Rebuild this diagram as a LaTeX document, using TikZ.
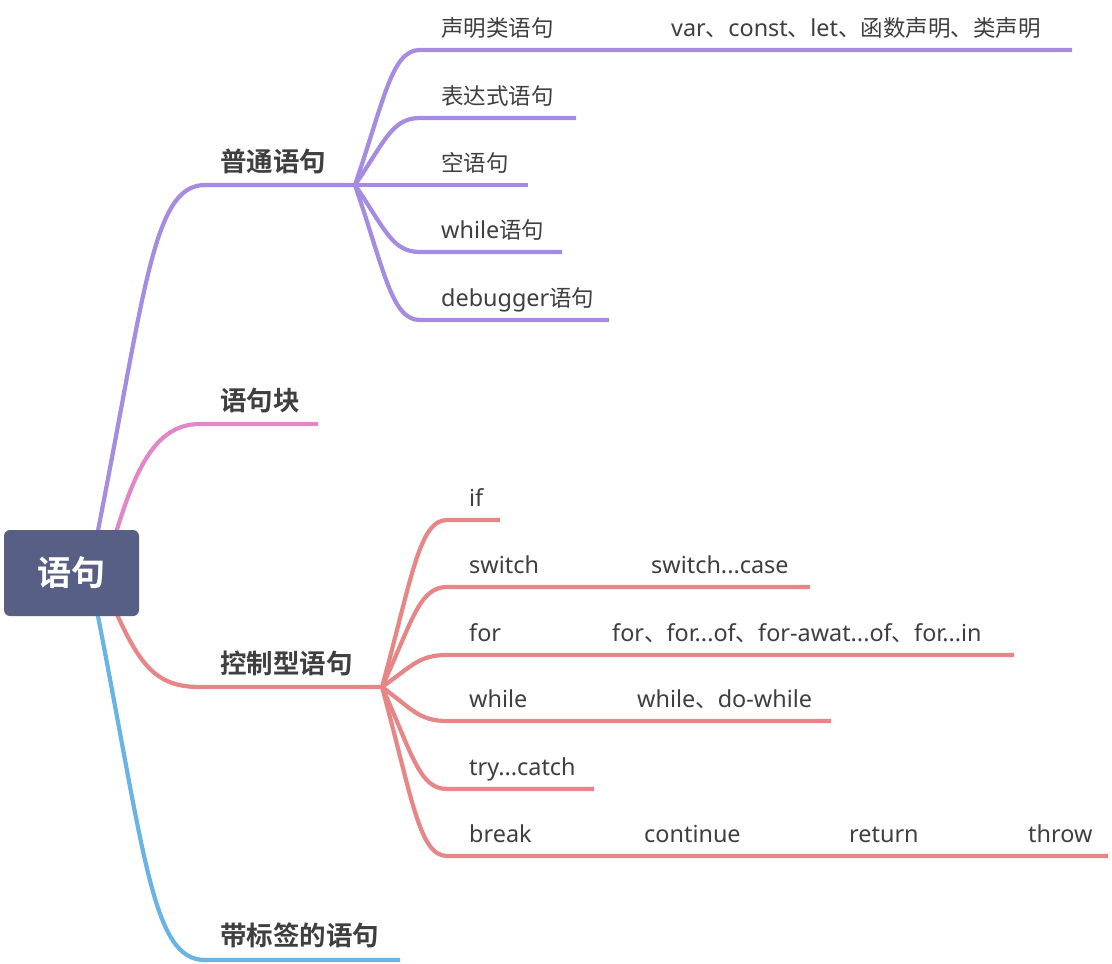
\documentclass[tikz,border=0pt]{standalone}
\usepackage{fontspec}
\setmainfont{Noto Sans CJK SC}[BoldFont={Noto Sans CJK SC Bold}]
\newfontfamily\lt{Noto Sans}[Scale=1.04]
\usetikzlibrary{backgrounds}
\definecolor{cpur}{HTML}{A58BE1}
\definecolor{cpink}{HTML}{E186C9}
\definecolor{cred}{HTML}{E68686}
\definecolor{cblue}{HTML}{6AB3E5}
\definecolor{croot}{HTML}{575F84}
\definecolor{ctxt}{HTML}{3F3F3F}
\begin{document}
\begin{tikzpicture}[x=1pt,y=-1pt,
  br/.style={line width=4.2pt},
  txt/.style={anchor=base west,inner sep=0pt,text=ctxt,font=\fontsize{22.5}{27}\selectfont},
  ltxt/.style={txt,font=\fontsize{22.5}{27}\selectfont\lt},
  mtxt/.style={anchor=base west,inner sep=0pt,text=ctxt,font=\fontsize{26.5}{31}\selectfont\bfseries},
  rootbox/.style={fill=croot,rounded corners=6pt,minimum width=135pt,minimum height=86pt,inner sep=0pt,text=white,font=\fontsize{34}{40}\selectfont\bfseries}]
\useasboundingbox (0,0) rectangle (1112,964);
% root
\node[rootbox] (root) at (71.5,573) {语句};
% main branch texts
\node[mtxt] (m1) at (220,171) {普通语句};
\node[mtxt] (m2) at (220,410) {语句块};
\node[mtxt] (m3) at (220,673) {控制型语句};
\node[mtxt] (m4) at (220,945) {带标签的语句};
% hubs / ends
\coordinate (h1) at (355,185);
\coordinate (e2) at (318,424);
\coordinate (h3) at (382,687);
\coordinate (e4) at (400,960);
\begin{scope}[on background layer]
\fill[white] (0,0) rectangle (1112,964);
\draw[br,cpur] ([xshift=18pt]root.center) .. controls (145,300) and (150,185) .. (205,185) -- (h1);
\draw[br,cpink] ([xshift=33pt]root.center) .. controls (130,480) and (150,424) .. (200,424) -- (e2);
\draw[br,cred] ([xshift=28pt]root.center) .. controls (135,660) and (150,687) .. (200,687) -- (h3);
\draw[br,cblue] ([xshift=18pt]root.center) .. controls (145,850) and (150,960) .. (205,960) -- (e4);
\end{scope}
% purple children
\node[txt] (p1) at (441,36) {声明类语句};
\node[txt] (p1a) at (671,36) {{\lt var}、{\lt const}、{\lt let}、函数声明、类声明};
\node[txt] (p2) at (441,104) {表达式语句};
\node[txt] (p3) at (441,171) {空语句};
\node[txt] (p4) at (441,238) {{\lt while}语句};
\node[txt] (p5) at (441,306) {{\lt debugger}语句};
\coordinate (p1e) at (576,50);
\coordinate (p1ae) at (1072,50);
\coordinate (p2e) at (576,118);
\coordinate (p3e) at (528,185);
\coordinate (p4e) at (562,252);
\coordinate (p5e) at (609,320);
\draw[br,cpur] (h1) .. controls (385,97) and (392,50) .. (420,50) -- (p1e) -- (p1ae);
\draw[br,cpur] (h1) .. controls (385,141) and (392,118) .. (420,118) -- (p2e);
\draw[br,cpur] (h1) -- (p3e);
\draw[br,cpur] (h1) .. controls (385,229) and (392,252) .. (420,252) -- (p4e);
\draw[br,cpur] (h1) .. controls (385,273) and (392,320) .. (420,320) -- (p5e);
% red children
\node[ltxt] (c1) at (469,506) {if};
\node[ltxt] (c2) at (469,573) {switch};
\node[ltxt] (c2a) at (651,573) {switch...case};
\node[ltxt] (c3) at (469,641) {for};
\node[txt] (c3a) at (612,641) {{\lt for}、{\lt for...of}、{\lt for-awat...of}、{\lt for...in}};
\node[ltxt] (c4) at (469,707) {while};
\node[txt] (c4a) at (637,707) {{\lt while}、{\lt do-while}};
\node[ltxt] (c5) at (469,775) {try...catch};
\node[ltxt] (c6) at (469,842) {break};
\node[ltxt] (c6a) at (644,842) {continue};
\node[ltxt] (c6b) at (849,842) {return};
\node[ltxt] (c6c) at (1028,842) {throw};
\coordinate (c1e) at (500,520);
\coordinate (c2e) at (555,587);
\coordinate (c2ae) at (810,587);
\coordinate (c3e) at (518,655);
\coordinate (c3ae) at (1014,655);
\coordinate (c4e) at (543,721);
\coordinate (c4ae) at (831,721);
\coordinate (c5e) at (594,789);
\coordinate (c6e) at (549,856);
\coordinate (c6ae) at (756,856);
\coordinate (c6be) at (935,856);
\coordinate (c6ce) at (1108,856);
\draw[br,cred] (h3) .. controls (412,578) and (419,520) .. (447,520) -- (c1e);
\draw[br,cred] (h3) .. controls (412,622) and (419,587) .. (447,587) -- (c2e) -- (c2ae);
\draw[br,cred] (h3) .. controls (412,666) and (419,655) .. (447,655) -- (c3e) -- (c3ae);
\draw[br,cred] (h3) .. controls (412,709) and (419,721) .. (447,721) -- (c4e) -- (c4ae);
\draw[br,cred] (h3) .. controls (412,753) and (419,789) .. (447,789) -- (c5e);
\draw[br,cred] (h3) .. controls (412,797) and (419,856) .. (447,856) -- (c6e) -- (c6ae) -- (c6be) -- (c6ce);
\end{tikzpicture}
\end{document}
